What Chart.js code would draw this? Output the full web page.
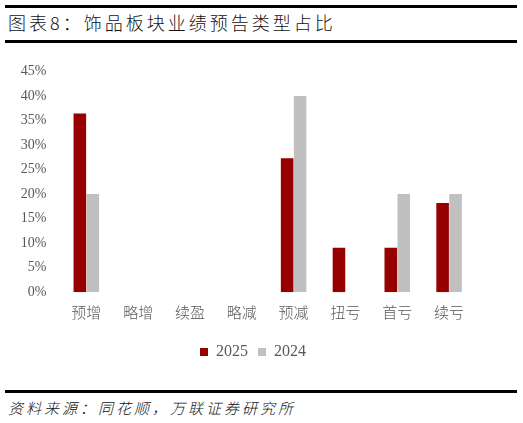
<!DOCTYPE html>
<html>
<head>
<meta charset="utf-8">
<script src="https://cdn.jsdelivr.net/npm/chart.js@4"></script>
<style>
  body { margin: 0; width: 523px; height: 423px; background: #fff; position: relative; overflow: hidden; }
  .rule { position: absolute; left: 5px; width: 512px; background: #000; }
  #title { position: absolute; left: 8px; top: 9px; font-family: "Noto Sans CJK SC", serif; font-size: 18px; font-weight: 300; letter-spacing: 3px; color: #111; line-height: 26px; }
  #source { position: absolute; left: 8px; top: 397px; font-family: "Noto Sans CJK SC", serif; font-size: 15px; font-weight: 300; font-style: italic; letter-spacing: 3px; color: #111; line-height: 22px; }
  #wrap { position: absolute; left: 0; top: 49px; width: 523px; height: 321px; }
</style>
</head>
<body>
<div class="rule" style="top:5px;height:3px"></div>
<div id="title">图表8：饰品板块业绩预告类型占比</div>
<div class="rule" style="top:40px;height:3px"></div>
<div id="wrap"><canvas id="grafico"></canvas></div>
<div class="rule" style="top:390px;height:3px"></div>
<div id="source">资料来源：同花顺，万联证券研究所</div>

<script>
// categorias y valores (%)
const categorias = ['预增', '略增', '续盈', '略减', '预减', '扭亏', '首亏', '续亏'];
const serie2025 = [36.4, 0, 0, 0, 27.3, 9.1, 9.1, 18.2];
const serie2024 = [20, 0, 0, 0, 40, 0, 20, 20];
const etiquetas = ['2025', '2024'];

const gris = '#595959';

// corre la leyenda un poco a la derecha, como en el original
const moverLeyenda = {
    id: 'moverLeyenda',
    afterLayout(chart) {
        if (chart.legend) chart.legend.left = 31;
    }
};

const ctx = document.getElementById('grafico').getContext('2d');
new Chart(ctx, {
    type: 'bar',
    data: {
        labels: categorias,
        datasets: [
            { label: etiquetas[0], data: serie2025, backgroundColor: '#960000', barPercentage: 0.97, categoryPercentage: 0.5 },
            { label: etiquetas[1], data: serie2024, backgroundColor: '#C0C0C0', barPercentage: 0.97, categoryPercentage: 0.5 }
        ]
    },
    options: {
        responsive: true,
        maintainAspectRatio: false,
        animation: false,
        layout: { padding: { top: 8.7, right: 48, bottom: 0, left: 0 } },
        plugins: {
            legend: {
                position: 'bottom',
                labels: {
                    boxWidth: 8,
                    boxHeight: 8,
                    color: gris,
                    font: { family: '"Liberation Serif", serif', size: 16 }
                }
            },
            tooltip: { enabled: false }
        },
        scales: {
            x: {
                grid: { display: false, drawTicks: false },
                border: { display: false },
                ticks: { color: gris, padding: 11, font: { family: '"Noto Sans CJK SC", sans-serif', size: 15, weight: 300 } },
                afterFit: function (scale) { scale.height = 41.7; }
            },
            y: {
                min: 0,
                max: 45,
                grid: { display: false, drawTicks: false },
                border: { display: false },
                ticks: {
                    stepSize: 5,
                    color: gris,
                    padding: 14,
                    font: { family: '"Liberation Serif", serif', size: 14 },
                    callback: function (v) { return v + '%'; }
                },
                afterFit: function (scale) { scale.width = 60.4; }
            }
        }
    },
    plugins: [moverLeyenda]
});
</script>
</body>
</html>
